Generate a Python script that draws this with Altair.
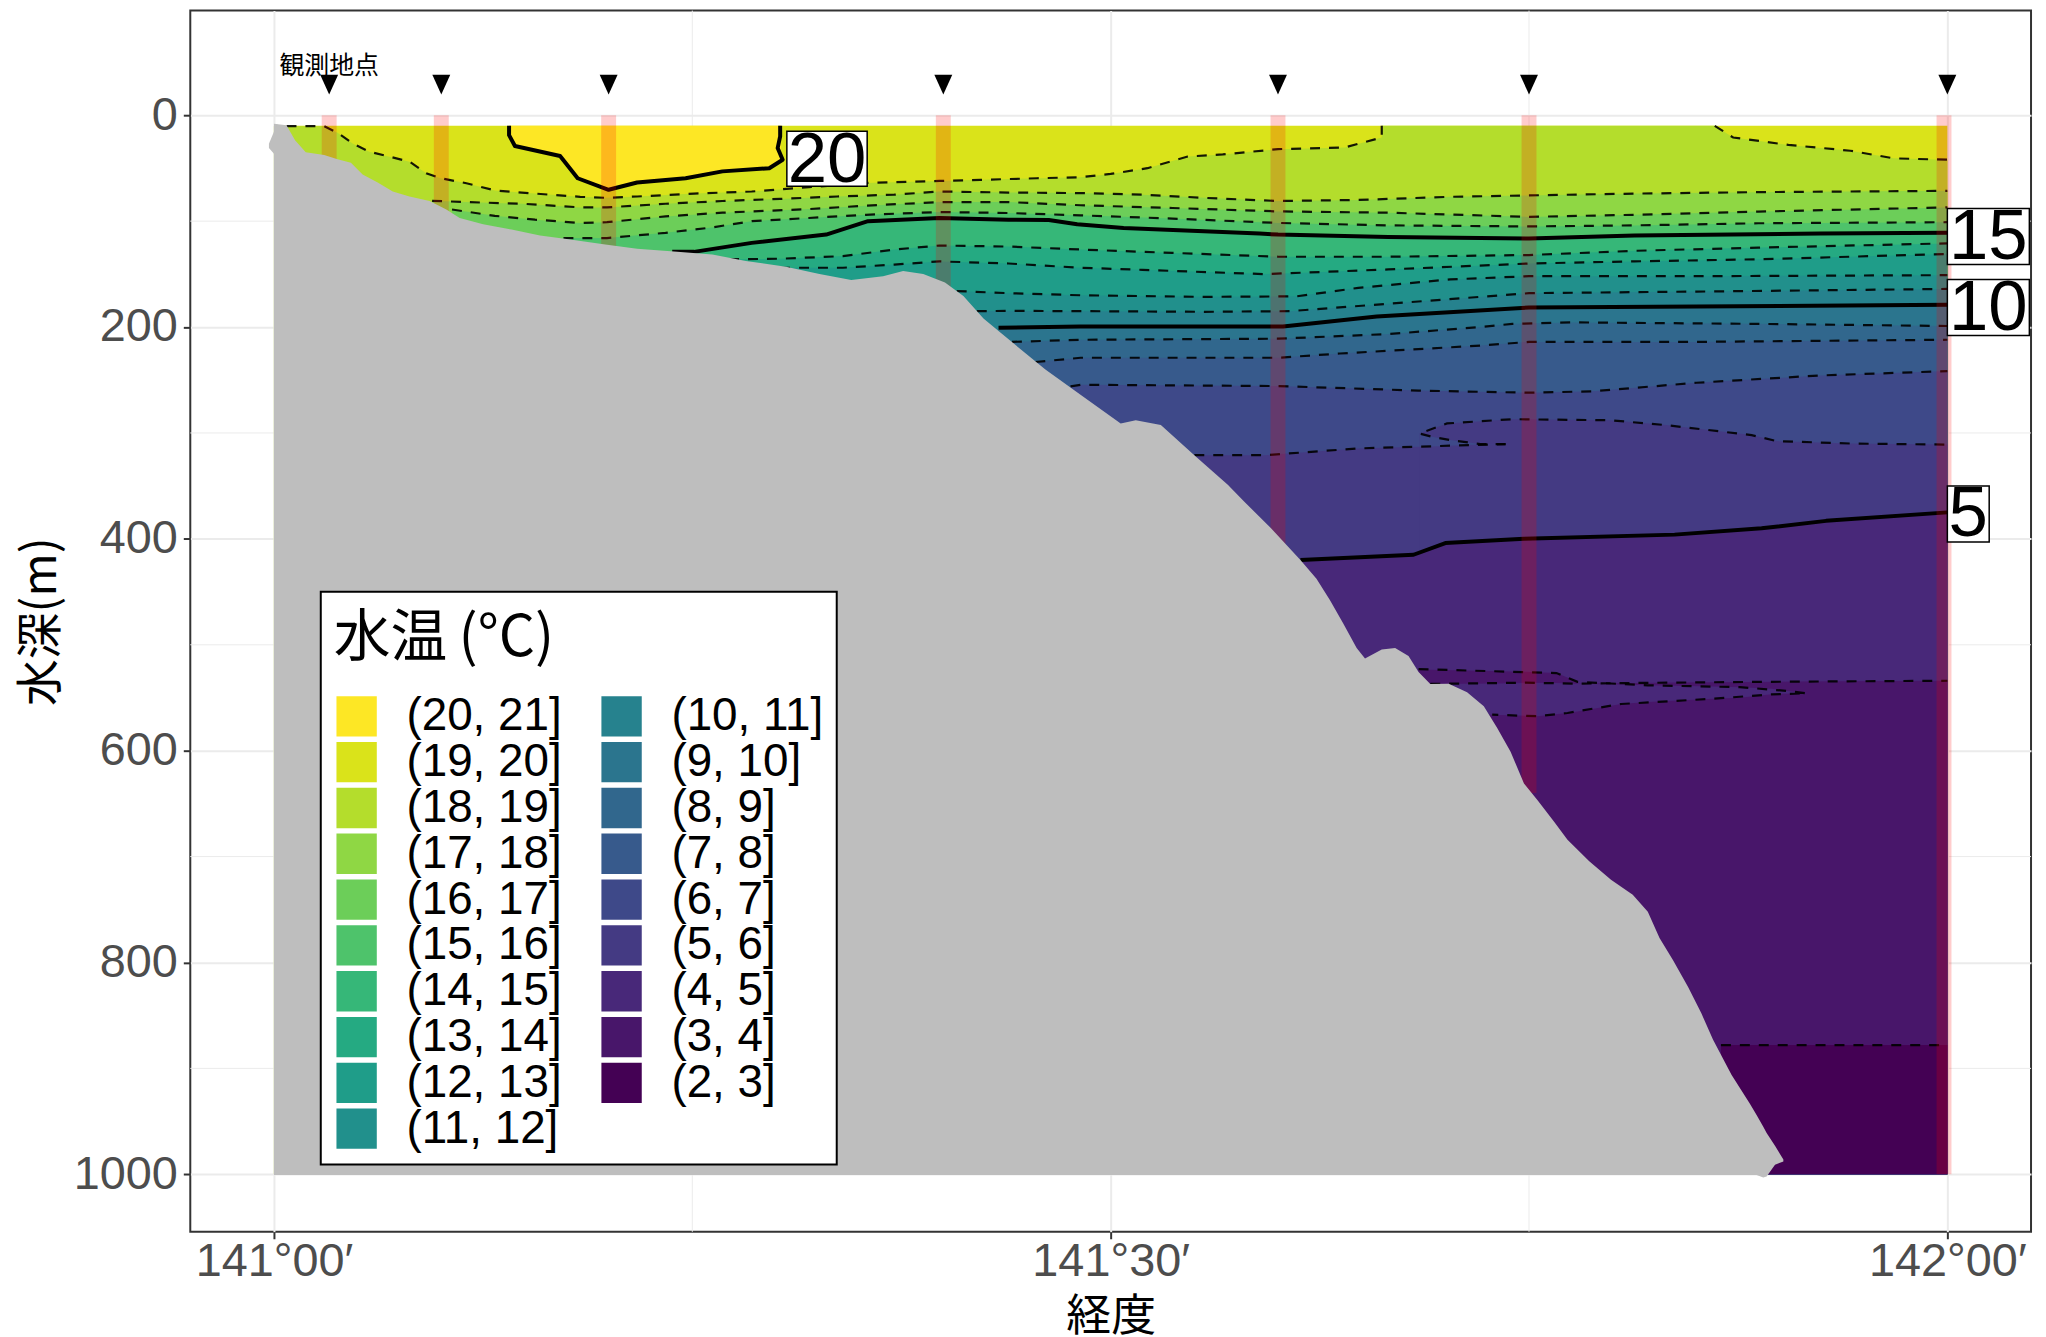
import altair as alt
import pandas as pd

# ---------- legend ----------
band_labels = ["(20, 21]", "(19, 20]", "(18, 19]", "(17, 18]", "(16, 17]", "(15, 16]", "(14, 15]",
               "(13, 14]", "(12, 13]", "(11, 12]", "(10, 11]", "(9, 10]", "(8, 9]", "(7, 8]",
               "(6, 7]", "(5, 6]", "(4, 5]", "(3, 4]", "(2, 3]"]
band_colors = ["#FDE725", "#DAE31A", "#B4DD2C", "#8FD744", "#6CCE59", "#4EC36B", "#36B778", "#25AA82",
               "#1F9D89", "#21908C", "#26828E", "#2B758E", "#31678D", "#375A8C", "#3E4989", "#443A83",
               "#482879", "#48166A", "#440154"]

# ---------- stations ----------
station_lon = [141.033, 141.1, 141.2, 141.4, 141.6, 141.75, 142.0]
strip_lon = [141.033, 141.1, 141.2, 141.4, 141.6, 141.75, 141.998]
strip_dep = [45, 95, 130, 165, 420, 640, 1000]

# ---------- isotherms (longitude, depth) ----------
surface_lon = [141.0, 142.0]
surface_dep = [10, 10]

t20_lon = [141.1405, 141.1405, 141.144, 141.171, 141.1815, 141.2, 141.217, 141.246, 141.268, 141.296, 141.304, 141.301, 141.3025, 141.3025]
t20_dep = [10, 18.8, 29, 38.5, 59.5, 70.4, 63.5, 59.5, 53, 50, 42, 31, 20, 10]
p20_lon = [141.1405, 141.144, 141.171, 141.1815, 141.2, 141.217, 141.246, 141.268, 141.296, 141.303]
p20_dep = [18.8, 29, 38.5, 59.5, 70.4, 63.5, 59.5, 53, 50, 43]

t19_lon = [141.0, 141.0075, 141.03, 141.038, 141.047, 141.057, 141.081, 141.091, 141.0996, 141.115, 141.132, 141.156, 141.183, 141.199, 141.217, 141.251, 141.2855, 141.3196, 141.3537, 141.3977, 141.422, 141.456, 141.482, 141.5, 141.522, 141.546, 141.567, 141.6, 141.64, 141.662, 141.662, 141.861, 141.872, 141.905, 141.942, 141.968, 142.0]
t19_dep = [10.3, 10.3, 10.3, 16.6, 26.6, 34.4, 43.8, 54.8, 59.5, 64.2, 71, 74, 77, 78, 76.7, 74, 72, 68, 64, 62, 61, 59.5, 58.5, 55.4, 50, 39, 37, 32, 30.4, 21, 10, 10, 21, 28, 33.5, 40.7, 42]
# the two drawn parts of the 19 degree line (it leaves the plotted sea surface in between)
t19w_lon = [141.0075, 141.03, 141.038, 141.047, 141.057, 141.081, 141.091, 141.0996, 141.115, 141.132, 141.156, 141.183, 141.199, 141.217, 141.251, 141.2855, 141.3196, 141.3537, 141.3977, 141.422, 141.456, 141.482, 141.5, 141.522, 141.546, 141.567, 141.6, 141.64, 141.662, 141.662]
t19w_dep = [10.3, 10.3, 16.6, 26.6, 34.4, 43.8, 54.8, 59.5, 64.2, 71, 74, 77, 78, 76.7, 74, 72, 68, 64, 62, 61, 59.5, 58.5, 55.4, 50, 39, 37, 32, 30.4, 21, 10]
t19e_lon = [141.861, 141.872, 141.905, 141.942, 141.968, 142.0]
t19e_dep = [10, 21, 28, 33.5, 40.7, 42]

t18_lon = [141.0945, 141.115, 141.149, 141.183, 141.199, 141.234, 141.268, 141.3025, 141.3366, 141.3707, 141.3977, 141.439, 141.482, 141.519, 141.556, 141.6, 141.648, 141.703, 141.75, 141.813, 141.887, 142.0]
t18_dep = [80.8, 82, 83.6, 87, 87, 83.6, 81, 79, 76.7, 75, 72, 73, 73.5, 75, 78, 81, 80, 77, 75.7, 74, 72.6, 71.4]

t17_lon = [141.1064, 141.132, 141.156, 141.183, 141.199, 141.234, 141.268, 141.3196, 141.3537, 141.3977, 141.439, 141.482, 141.537, 141.6, 141.666, 141.75, 141.813, 141.887, 142.0]
t17_dep = [89, 95, 98.6, 101.7, 101, 95.5, 92, 88.6, 85.4, 82, 82, 85, 87.6, 90.8, 92, 96, 94, 91, 87]

t16_lon = [141.173, 141.199, 141.234, 141.2616, 141.2855, 141.3196, 141.3537, 141.3977, 141.439, 141.482, 141.537, 141.6, 141.666, 141.75, 141.813, 141.887, 142.0]
t16_dep = [116, 116, 111, 106, 100, 97, 94, 91.4, 92.3, 94.5, 97.6, 101.7, 104, 105, 104, 102, 101]

t15_lon = [141.238, 141.251, 141.2855, 141.33, 141.355, 141.3977, 141.439, 141.463, 141.48, 141.5077, 141.589, 141.6, 141.666, 141.75, 141.813, 141.924, 142.0]
t15_dep = [129, 129, 120.5, 112.7, 100, 97, 98.6, 99, 103, 106.4, 111.7, 112.7, 115, 116.4, 113.6, 111.7, 111]

t14_lon = [141.272, 141.3025, 141.34, 141.3707, 141.3977, 141.439, 141.482, 141.537, 141.6, 141.666, 141.75, 141.813, 141.887, 142.0]
t14_dep = [136, 135.5, 133, 126.8, 123, 124, 126.8, 130, 133.6, 133.6, 132, 128, 125, 121]

t13_lon = [141.3025, 141.34, 141.3707, 141.3977, 141.439, 141.482, 141.519, 141.592, 141.666, 141.75, 141.813, 141.887, 142.0]
t13_dep = [144, 144, 141, 138, 140, 144, 146, 150, 145.6, 140, 138, 136, 131]

t12_lon = [141.408, 141.439, 141.482, 141.556, 141.611, 141.648, 141.703, 141.75, 141.85, 142.0]
t12_dep = [166, 168, 170, 171.5, 171, 163, 155, 152, 152, 151]

t11_lon = [141.42, 141.439, 141.482, 141.556, 141.607, 141.666, 141.75, 141.85, 142.0]
t11_dep = [185, 184.7, 185, 185.6, 185, 178, 168, 166.5, 164]

t10_lon = [141.433, 141.482, 141.603, 141.659, 141.75, 141.85, 142.0]
t10_dep = [200.7, 199.4, 199.4, 190, 181.5, 180.6, 179]

t9_lon = [141.441, 141.482, 141.6, 141.666, 141.721, 141.74, 141.776, 141.887, 142.0]
t9_dep = [214, 212, 211, 206.6, 200, 197, 195.6, 197, 199]

t8_lon = [141.455, 141.482, 141.6, 141.637, 141.721, 141.75, 141.85, 142.0]
t8_dep = [233, 229, 229, 225, 217.5, 214, 214, 212]

t7_lon = [141.476, 141.482, 141.6, 141.684, 141.75, 141.788, 141.85, 141.924, 142.0]
t7_dep = [256, 254.5, 255.7, 260, 262, 260.7, 252.6, 245.7, 241.6]

# 6 degree line: left arm, tip return, and the long arc to the right edge
t6a_lon = [141.55, 141.592, 141.648, 141.684, 141.703, 141.736]
t6a_dep = [321, 321, 314.6, 313, 312, 310.5]
t6b_lon = [141.736, 141.721, 141.703, 141.692, 141.6845, 141.701, 141.74, 141.7986, 141.832, 141.883, 141.898, 141.942, 142.0]
t6b_dep = [310.5, 310.5, 306.7, 303.6, 300.5, 291, 287, 288, 292.6, 302, 307.7, 310, 311]
t6arc_lon = [141.6845, 141.701, 141.74, 141.7986, 141.832, 141.883, 141.898, 141.942, 142.0]
t6arc_dep = [300.5, 291, 287, 288, 292.6, 302, 307.7, 310, 311]
wedge_lon = [141.6845, 141.692, 141.703, 141.721, 141.736]
wedge_top = [300.5, 303.6, 306.7, 310.5, 310.5]
wedge_bot = [313, 312.8, 312, 311, 310.5]

t5_lon = [141.6134, 141.681, 141.7, 141.747, 141.837, 141.889, 141.9275, 142.0]
t5_dep = [420, 415, 404, 400, 396, 390, 383, 375]

t4_main_lon = [141.691, 141.747, 141.779, 141.837, 141.908, 142.0]
t4_main_dep = [537, 535.8, 536.7, 535.7, 534.8, 534]
t4_loop_lon = [141.684, 141.7664, 141.779, 141.821, 141.876, 141.902, 141.916, 141.895, 141.86, 141.805, 141.773, 141.755, 141.728]
t4_loop_dep = [523, 526.7, 535, 538.3, 540, 543.3, 545.8, 546.8, 551, 555.9, 564.4, 567.5, 566]
p45_lon = [141.691, 141.728, 141.755, 141.773, 141.779, 141.805, 141.821, 141.86, 141.876, 141.895, 141.902, 141.916]
p45_top = [537, 536.5, 536, 536, 536.7, 537.5, 538.3, 539.5, 540, 541.5, 543.3, 545.8]
p45_bot = [566, 566, 567.5, 564.4, 563, 555.9, 554, 551, 550, 546.8, 546.2, 545.8]
p34_lon = [141.684, 141.691, 141.747, 141.7664, 141.779]
p34_top = [523, 523.5, 525.5, 526.7, 535]
p34_bot = [537, 537, 535.8, 536, 536.7]

t3_lon = [141.8647, 142.0]
t3_dep = [878, 878]

# ---------- seabed ----------
land_lon = [141.0, 141.0075, 141.0126, 141.019, 141.03, 141.038, 141.046, 141.053, 141.062, 141.071, 141.081, 141.093, 141.103, 141.111, 141.125, 141.142, 141.159, 141.176, 141.198, 141.217, 141.241, 141.262, 141.282, 141.306, 141.326, 141.345, 141.364, 141.376, 141.388, 141.401, 141.412, 141.424, 141.437, 141.461, 141.482, 141.506, 141.515, 141.53, 141.55, 141.57, 141.5796, 141.5957, 141.6134, 141.623, 141.631, 141.639, 141.647, 141.652, 141.662, 141.67, 141.678, 141.684, 141.691, 141.702, 141.713, 141.723, 141.731, 141.739, 141.747, 141.755, 141.765, 141.773, 141.786, 141.799, 141.812, 141.821, 141.828, 141.836, 141.845, 141.853, 141.86, 141.871, 141.882, 141.886, 141.89, 141.892, 141.897, 141.902]
land_dep = [8, 9.4, 23.5, 35, 37.6, 41.6, 44.8, 56, 63.5, 72, 76.7, 81, 89, 97, 103, 108, 113.6, 117, 122, 126, 129, 131.5, 137.7, 143, 150, 155.5, 152, 147, 150, 158, 170.6, 192, 209, 240, 264, 291, 288, 292.6, 321, 349, 364.5, 389.7, 420, 437.6, 457.7, 480, 503, 513, 504.5, 503, 510.6, 525.7, 537, 536.7, 544.8, 558, 578.5, 601, 631, 646.5, 667, 684, 704.4, 722, 736, 752, 777, 797.6, 822.8, 848, 873, 906, 933.5, 944, 955, 961, 973, 986]
land_bot = [1000.7] * 73 + [1000.7, 1003, 1002, 991, 988]
nub_lon = [140.997, 141.002]
nub_top = [27, 8]
nub_bot = [31, 40]

# ---------- text boxes ----------
box_text = ["20", "15", "10", "5"]
box_x1 = [141.3065, 142.0, 142.0, 142.0]
box_x2 = [141.3545, 142.049, 142.049, 142.025]
box_y1 = [15, 88, 155, 350]
box_y2 = [67, 141, 208, 403]
text_lon = [141.3305, 142.0245, 142.0245, 142.0125]
text_dep = [41, 114, 181, 376]

x_major = [141.0, 141.5, 142.0]
x_minor = [141.25, 141.75]
y_major = [0, 200, 400, 600, 800, 1000]
y_minor = [100, 300, 500, 700, 900]

FONT = "Liberation Sans"
CJK = "Noto Sans CJK JP"

X = alt.X("lon:Q", scale=alt.Scale(domain=[140.95, 142.05], nice=False, zero=False),
          axis=alt.Axis(values=x_major, title="経度", grid=True, gridColor="#EBEBEB", gridWidth=2,
                        labelExpr="datum.value == 141 ? '141°00′' : datum.value == 142 ? '142°00′' : '141°30′'",
                        labelFont=FONT, labelFontSize=47, labelColor="#4D4D4D", labelOverlap=False,
                        labelBound=False, labelFlush=False, labelPadding=0, domain=False,
                        tickColor="#333333", tickSize=7, tickWidth=2,
                        titleFont=CJK, titleFontSize=45, titleFontWeight="normal", titleColor="black",
                        titlePadding=10))
Y = alt.Y("dep:Q", scale=alt.Scale(domain=[-98.8, 1054.3], reverse=True, nice=False, zero=False),
          axis=alt.Axis(values=y_major, title="水深(m)", format="d", grid=True, gridColor="#EBEBEB", gridWidth=2,
                        labelFont=FONT, labelFontSize=47, labelColor="#4D4D4D", labelOverlap=False,
                        labelBound=False, labelPadding=6, domain=False,
                        tickColor="#333333", tickSize=7, tickWidth=2,
                        titleFont=CJK, titleFontSize=47, titleFontWeight="normal", titleColor="black",
                        titlePadding=8))
COLOR = alt.Color("band:N",
                  scale=alt.Scale(domain=band_labels, range=band_colors),
                  legend=alt.Legend(orient="none", legendX=131, legendY=583.5, title="水温\u2009(°C)",
                                    titleFont=CJK, titleFontSize=57, titleFontWeight="normal",
                                    titleColor="black", titlePadding=32, titleLimit=600,
                                    titleBaseline="line-top", titleLineHeight=68,
                                    labelFont=FONT, labelFontSize=46, labelColor="black", labelOffset=27,
                                    labelLimit=400, symbolType="square", symbolSize=1640,
                                    symbolStrokeWidth=0, symbolOpacity=1, columns=2, columnPadding=37, rowPadding=0,
                                    padding=13, fillColor="white", strokeColor="black"))


def area(lon, top, bot, band):
    bots = bot if isinstance(bot, list) else [bot] * len(lon)
    df = pd.DataFrame({"lon": lon, "dep": top, "dep2": bots, "band": band})
    return alt.Chart(df).mark_area(orient="vertical", interpolate="linear").encode(
        x=X, y=Y, y2="dep2:Q", color=COLOR)


def line(lon, dep, solid=False):
    df = pd.DataFrame({"lon": lon, "dep": dep, "idx": range(len(lon))})
    if solid:
        m = alt.Chart(df).mark_line(color="black", strokeWidth=4, strokeJoin="round")
    else:
        m = alt.Chart(df).mark_line(color="black", strokeWidth=2.2, strokeDash=[10, 9], opacity=0.9)
    return m.encode(x=X, y=Y, order="idx:Q")


layers = [
    alt.Chart(pd.DataFrame({"lon": x_minor})).mark_rule(color="#EBEBEB", strokeWidth=1).encode(x=X),
    alt.Chart(pd.DataFrame({"dep": y_minor})).mark_rule(color="#EBEBEB", strokeWidth=1).encode(y=Y),
    area(surface_lon, surface_dep, 1000, "(19, 20]"),
    area(p20_lon, [10] * len(p20_lon), p20_dep, "(20, 21]"),
    area(t19_lon, t19_dep, 1000, "(18, 19]"),
    area(t18_lon, t18_dep, 1000, "(17, 18]"),
    area(t17_lon, t17_dep, 1000, "(16, 17]"),
    area(t16_lon, t16_dep, 1000, "(15, 16]"),
    area(t15_lon, t15_dep, 1000, "(14, 15]"),
    area(t14_lon, t14_dep, 1000, "(13, 14]"),
    area(t13_lon, t13_dep, 1000, "(12, 13]"),
    area(t12_lon, t12_dep, 1000, "(11, 12]"),
    area(t11_lon, t11_dep, 1000, "(10, 11]"),
    area(t10_lon, t10_dep, 1000, "(9, 10]"),
    area(t9_lon, t9_dep, 1000, "(8, 9]"),
    area(t8_lon, t8_dep, 1000, "(7, 8]"),
    area(t7_lon, t7_dep, 1000, "(6, 7]"),
    area(t6a_lon, t6a_dep, 1000, "(5, 6]"),
    area(t6arc_lon, t6arc_dep, 1000, "(5, 6]"),
    area(wedge_lon, wedge_top, wedge_bot, "(6, 7]"),
    area(t5_lon, t5_dep, 1000, "(4, 5]"),
    area(t4_main_lon, t4_main_dep, 1000, "(3, 4]"),
    area(p45_lon, p45_top, p45_bot, "(4, 5]"),
    area(p34_lon, p34_top, p34_bot, "(3, 4]"),
    area(t3_lon, t3_dep, 1000, "(2, 3]"),
]
for lo, de in [(t19w_lon, t19w_dep), (t19e_lon, t19e_dep), (t18_lon, t18_dep), (t17_lon, t17_dep), (t16_lon, t16_dep),
               (t14_lon, t14_dep), (t13_lon, t13_dep), (t12_lon, t12_dep), (t11_lon, t11_dep),
               (t9_lon, t9_dep), (t8_lon, t8_dep), (t7_lon, t7_dep), (t6a_lon, t6a_dep),
               (t6b_lon, t6b_dep), (t4_main_lon, t4_main_dep), (t4_loop_lon, t4_loop_dep),
               (t3_lon, t3_dep)]:
    layers.append(line(lo, de))
for lo, de in [(t20_lon, t20_dep), (t15_lon, t15_dep), (t10_lon, t10_dep), (t5_lon, t5_dep)]:
    layers.append(line(lo, de, solid=True))

strips = pd.DataFrame({"lon": strip_lon, "dep": [0] * len(strip_lon), "dep2": strip_dep})
layers.append(alt.Chart(strips).mark_rule(color="#FF0000", opacity=0.2, strokeWidth=15, strokeCap="butt")
              .encode(x=X, y=Y, y2="dep2:Q"))

land = pd.DataFrame({"lon": land_lon, "dep": land_dep, "dep2": land_bot})
nub = pd.DataFrame({"lon": nub_lon, "dep": nub_top, "dep2": nub_bot})
for df in (land, nub):
    layers.append(alt.Chart(df).mark_area(color="#BEBEBE", orient="vertical", interpolate="linear")
                  .encode(x=X, y=Y, y2="dep2:Q"))

marks = pd.DataFrame({"lon": station_lon, "dep": [-29] * len(station_lon)})
layers.append(alt.Chart(marks).mark_point(shape="M-1,-1.1L1,-1.1L0,1.1Z", filled=True, color="black", size=324, opacity=1)
              .encode(x=X, y=Y))
layers.append(alt.Chart(pd.DataFrame({"lon": [141.033], "dep": [-46.5], "t": ["観測地点"]}))
              .mark_text(font=CJK, fontSize=25, color="black", align="center", baseline="middle")
              .encode(x=X, y=Y, text="t:N"))

boxes = pd.DataFrame({"lon": box_x1, "lon2": box_x2, "dep": box_y1, "dep2": box_y2})
layers.append(alt.Chart(boxes).mark_rect(fill="white", stroke="black", strokeWidth=1.5)
              .encode(x=X, x2="lon2:Q", y=Y, y2="dep2:Q"))
labels = pd.DataFrame({"lon": text_lon, "dep": text_dep, "t": box_text})
layers.append(alt.Chart(labels).mark_text(font=FONT, fontSize=71, color="black", align="center", baseline="middle", dy=2)
              .encode(x=X, y=Y, text="t:N"))

chart = (alt.layer(*layers)
         .properties(width=1848, height=1226,
                     autosize=alt.AutoSizeParams(type="none"),
                     padding={"left": 183, "top": 0, "right": 7, "bottom": 103})
         .configure_view(stroke="#333333", strokeWidth=2)
         .configure_legend(strokeWidth=2))

chart.save("out.html", embed_options={"renderer": "svg", "actions": False})
